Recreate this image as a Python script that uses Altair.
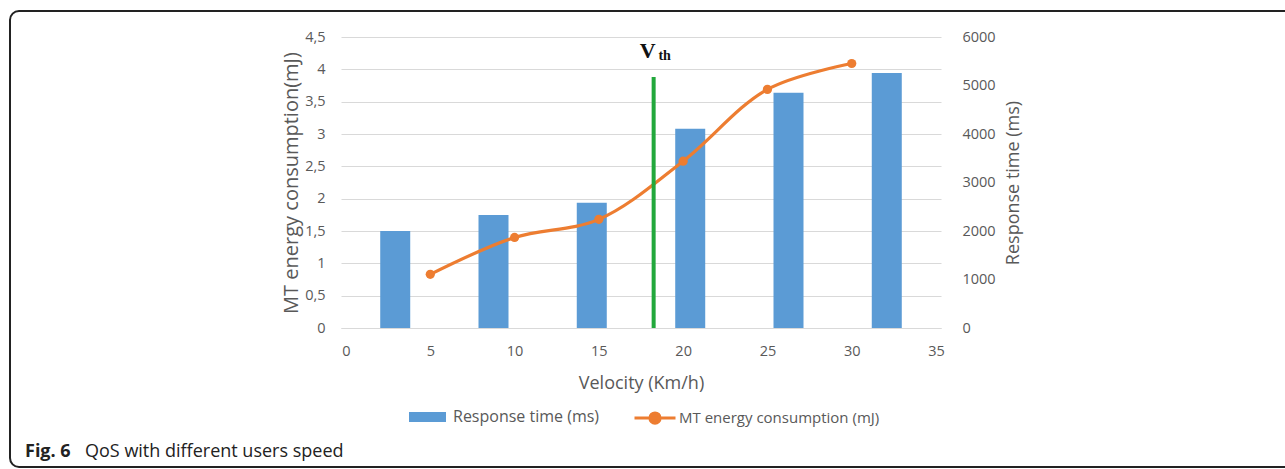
import altair as alt
import pandas as pd

# ---- data ----
bar_x = [2.92, 8.75, 14.58, 20.42, 26.25, 32.08]
response_ms = [2000, 2330, 2580, 4110, 4850, 5260]
line_x = [5, 10, 15, 20, 25, 30]
energy_mj = [0.83, 1.40, 1.68, 2.58, 3.69, 4.09]
vth_x = [18.25]
vth_top = [3.88]
vth_label_y = [4.17]

bar_name = "Response time (ms)"
line_name = "MT energy consumption (mJ)"

bars_df = pd.DataFrame({"v": bar_x, "ms": response_ms, "s": [bar_name] * len(bar_x)})
line_df = pd.DataFrame({"v": line_x, "mj": energy_mj, "s": [line_name] * len(line_x)})
vth_df = pd.DataFrame({"v": vth_x, "top": vth_top, "ly": vth_label_y, "zero": [0]})

GRAY = "#595959"
FONT = "Open Sans"
BLUE = "#5b9bd5"
ORANGE = "#ed7d31"
GREEN = "#22a83c"

x_enc = alt.X("v:Q", scale=alt.Scale(domain=[0, 35], nice=False),
              axis=alt.Axis(values=[0, 5, 10, 15, 20, 25, 30, 35], grid=False, ticks=False,
                            domainColor="#d9d9d9", domainWidth=1, labelPadding=16,
                            title="Velocity (Km/h)", titlePadding=17, titleFontSize=18))

left_axis = alt.Axis(values=[0, 0.5, 1, 1.5, 2, 2.5, 3, 3.5, 4, 4.5],
                     labelExpr="replace(format(datum.value, '~g'), '.', ',')",
                     grid=True, gridColor="#d9d9d9", domain=False, ticks=False,
                     labelPadding=16, title="MT energy consumption(mJ)", titlePadding=3,
                     titleFontSize=20)
left_scale = alt.Scale(domain=[0, 4.5], nice=False)


def y_left(field):
    return alt.Y(field, type="quantitative", scale=left_scale, axis=left_axis)


bars = alt.Chart(bars_df).mark_bar(size=30, color=BLUE).encode(
    x=x_enc,
    y=alt.Y("ms:Q", scale=alt.Scale(domain=[0, 6000], nice=False),
            axis=alt.Axis(orient="right", values=[0, 1000, 2000, 3000, 4000, 5000, 6000],
                          format="d", grid=False, domain=False, ticks=False,
                          labelPadding=21, labelAlign="left",
                          title="Response time (ms)", titleAngle=270, titlePadding=27,
                          titleFontSize=18)),
    fill=alt.Fill("s:N", scale=alt.Scale(domain=[bar_name], range=[BLUE]),
                  legend=alt.Legend(orient="none", legendX=68, legendY=361.5, title=None,
                                    symbolType="M-1,-0.27H1V0.27H-1Z", symbolSize=1369,
                                    symbolStrokeWidth=0, padding=0, labelOffset=7,
                                    labelLimit=0)),
)

line = alt.Chart(line_df).mark_line(interpolate="catmull-rom", strokeWidth=3.2).encode(
    x=alt.X("v:Q"),
    y=y_left("mj"),
    stroke=alt.Stroke("s:N", scale=alt.Scale(domain=[line_name], range=[ORANGE]),
                      legend=alt.Legend(orient="none", legendX=292, legendY=359, title=None,
                                        symbolType="M-1,0H1M0.25,0A0.25,0.25,0,1,1,-0.25,0A0.25,0.25,0,1,1,0.25,0Z",
                                        symbolSize=1681, symbolStrokeWidth=3,
                                        symbolFillColor=ORANGE, padding=0, labelOffset=2,
                                        labelLimit=0, labelFontSize=15)),
)

points = alt.Chart(line_df).mark_circle(size=85, color=ORANGE, opacity=1).encode(
    x=alt.X("v:Q"),
    y=y_left("mj"),
)

vrule = alt.Chart(vth_df).mark_rule(color=GREEN, strokeWidth=4).encode(
    x=alt.X("v:Q"),
    y=y_left("zero"),
    y2="top:Q",
)

v_text = alt.Chart(vth_df).mark_text(text="V", font="Liberation Serif", fontWeight="bold",
                                      fontSize=22, align="center", baseline="alphabetic",
                                      dx=-6, color="#111111").encode(
    x=alt.X("v:Q"), y=y_left("ly"))

th_text = alt.Chart(vth_df).mark_text(text="th", font="Liberation Serif", fontWeight="bold",
                                       fontSize=14, align="center", baseline="alphabetic",
                                       dx=11, dy=2, color="#111111").encode(
    x=alt.X("v:Q"), y=y_left("ly"))

# decorative frame and caption (figure furniture, positioned in pixels)
frame = alt.Chart(vth_df).mark_rect(filled=False, stroke="#222222", strokeWidth=2,
                                    cornerRadius=9, clip=False).encode(
    x=alt.value(-331), x2=alt.value(965), y=alt.value(-26), y2=alt.value(430))

cap_bold = alt.Chart(vth_df).mark_text(text="Fig. 6", font=FONT, fontWeight="bold", fontSize=18,
                                       align="left", baseline="alphabetic", color="#222222").encode(
    x=alt.value(-316), y=alt.value(420))
cap_rest = alt.Chart(vth_df).mark_text(text="QoS with different users speed", font=FONT,
                                       fontSize=18, align="left", baseline="alphabetic",
                                       color="#222222").encode(
    x=alt.value(-256), y=alt.value(420))

inner = alt.layer(line, points, vrule, v_text, th_text, frame, cap_bold, cap_rest)

chart = alt.layer(bars, inner).resolve_scale(y="independent").properties(
    width=600, height=291,
    autosize=alt.AutoSizeParams(type="none"),
    padding={"left": 341, "top": 37, "right": 344, "bottom": 141},
    background="white",
).configure_view(stroke=None).configure_axis(
    labelFont=FONT, labelFontSize=14.5, labelColor=GRAY,
    titleFont=FONT, titleFontSize=18, titleColor=GRAY, titleFontWeight="normal",
).configure_legend(
    labelFont=FONT, labelFontSize=16, labelColor=GRAY,
)

chart.save("out.html", embed_options={"renderer": "svg", "actions": False})
